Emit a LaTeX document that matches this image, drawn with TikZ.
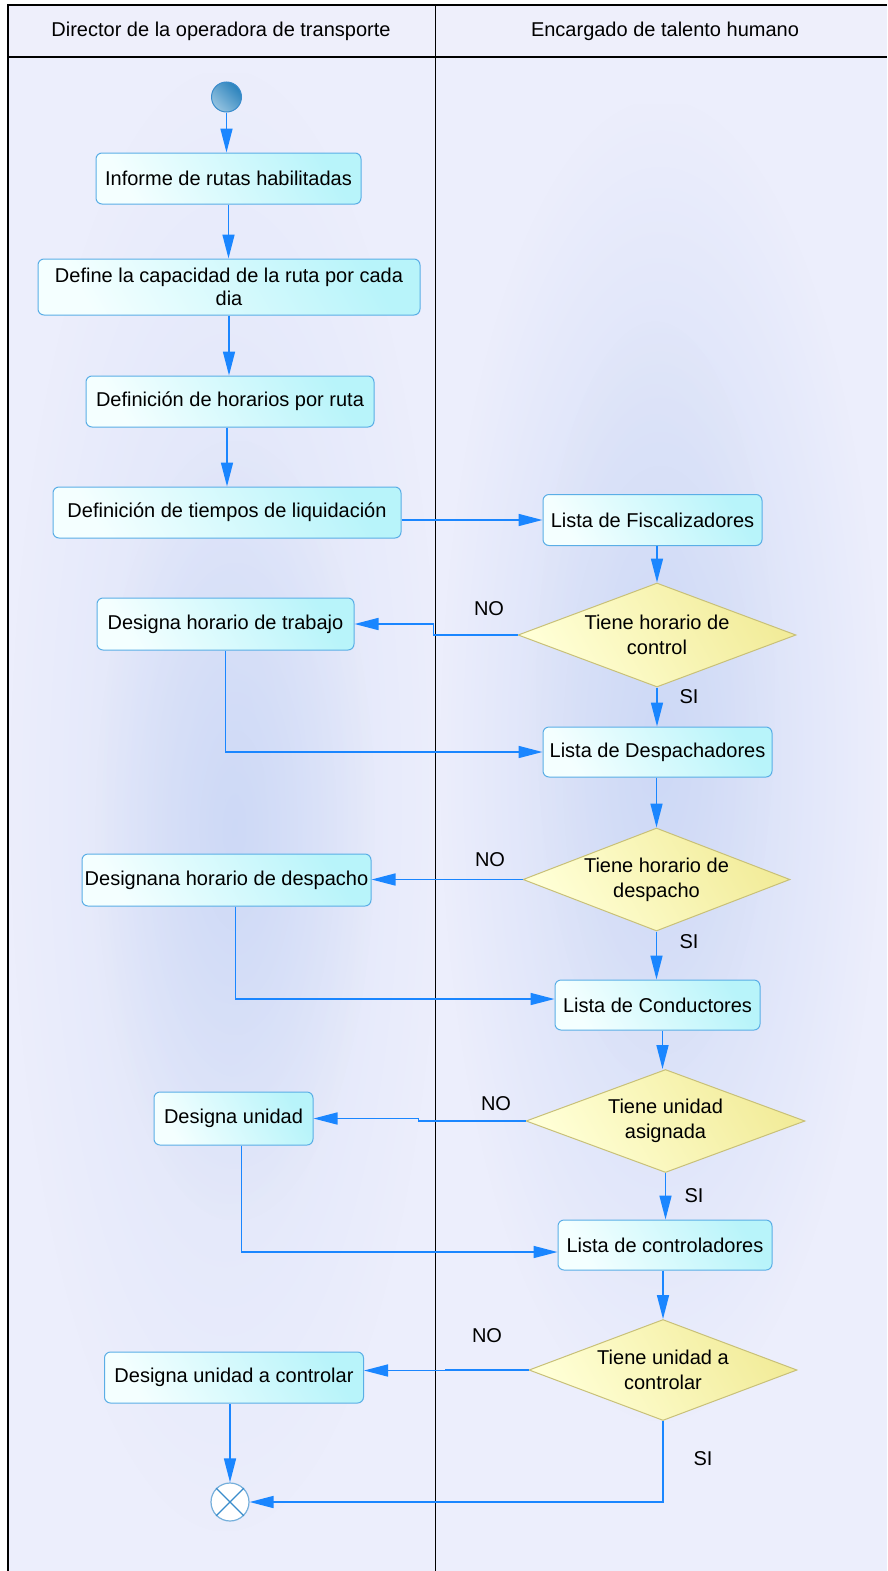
\documentclass[tikz,border=0pt]{standalone}
\usepackage{fontspec}
\setmainfont{Liberation Sans}
\usetikzlibrary{shapes.geometric,arrows.meta,fadings}

\definecolor{lanebg}{HTML}{ECEEFC}
\definecolor{lanehaze}{HTML}{CCD8F6}
\definecolor{headbg}{HTML}{EEEFFB}
\definecolor{boxline}{HTML}{5AAEE6}
\definecolor{boxlight}{HTML}{F4FFFF}
\definecolor{boxdark}{HTML}{B8F4FA}
\definecolor{decline}{HTML}{C8C078}
\definecolor{declight}{HTML}{FFFFD6}
\definecolor{decdark}{HTML}{F2EC9A}
\definecolor{flow}{HTML}{1A86FF}
\definecolor{startlight}{HTML}{95C3E0}
\definecolor{startdark}{HTML}{2A82BC}
\definecolor{endline}{HTML}{3A8CCC}

\tikzfading[name=softblob, inner color=transparent!0, outer color=transparent!100]

\tikzset{
  actbox/.style={draw=boxline, line width=1pt, rounded corners=6pt,
    left color=boxlight, right color=boxdark, shading angle=120,
    inner sep=0pt, align=center, text=black},
  decbox/.style={diamond, draw=decline, line width=1pt,
    left color=declight, right color=decdark, shading angle=120,
    inner sep=0pt},
  flowarrow/.style={draw=flow, line width=1.6pt,
    -{Triangle[length=24pt,width=12pt]}},
  guard/.style={text=black, inner sep=0pt},
  frame/.style={draw=black, line width=1.5pt},
}

% soft elliptical haze: centre x, centre y, half width, half height, opacity
\newcommand\hazeblob[5]{%
  \fill[lanehaze, fill opacity=#5, path fading=softblob]
    (#1-#3,#2-#4) rectangle (#1+#3,#2+#4);}

\begin{document}
\begin{tikzpicture}[x=1pt, y=-1pt, font=\fontsize{20}{24}\selectfont]
\useasboundingbox (0,0) rectangle (887,1571);

% lane backgrounds with soft haze
\fill[lanebg] (8,57) rectangle (887,1571);
\hazeblob{225}{800}{215}{730}{0.5}
\hazeblob{235}{830}{140}{390}{0.9}
\hazeblob{660}{760}{220}{660}{0.9}
\hazeblob{655}{700}{120}{380}{0.45}

% header band
\fill[headbg] (8,5) rectangle (887,57);
\draw[frame] (887,5) -- (8,5) -- (8,1571);
\draw[draw=black, line width=2pt] (8,57) -- (887,57);
\draw[frame] (435.5,5) -- (435.5,1571);
\node[text=black] (hdir) at (221,31) {Director de la operadora de transporte};
\node[text=black] (hrh) at (665,31) {Encargado de talento humano};

% initial and final states
\node[circle, draw=endline, line width=1pt, left color=startlight, right color=startdark,
  shading angle=135, minimum size=30pt, inner sep=0pt] (start) at (226.5,97) {};
\node[circle, draw=endline!70, line width=1.2pt, fill=white, minimum size=38pt, inner sep=0pt]
  (finish) at (230,1502) {};
\draw[endline, line width=1.2pt] (finish.north west) -- (finish.south east)
  (finish.north east) -- (finish.south west);

% activities of the director
\node[actbox, minimum width=265pt, minimum height=51pt] (n1) at (228.5,178.5) {Informe de rutas habilitadas};
\node[actbox, minimum width=382pt, minimum height=56pt, font=\fontsize{20}{23}\selectfont] (n2) at (229,287) {Define la capacidad de la ruta por cada\\dia};
\node[actbox, minimum width=288pt, minimum height=51pt] (n3) at (230,401.5) {Definición de horarios por ruta};
\node[actbox, minimum width=348pt, minimum height=51pt] (n4) at (227,512.5) {Definición de tiempos de liquidación};
\node[actbox, minimum width=257pt, minimum height=52pt] (n5) at (225.5,624) {Designa horario de trabajo};
\node[actbox, minimum width=289pt, minimum height=52pt] (n6) at (226.5,880) {Designana horario de despacho};
\node[actbox, minimum width=159pt, minimum height=53pt] (n7) at (233.5,1118.5) {Designa unidad};
\node[actbox, minimum width=259pt, minimum height=51pt] (n8) at (234,1377.5) {Designa unidad a controlar};

% activities of human resources
\node[actbox, minimum width=219pt, minimum height=51pt] (la) at (652.5,520) {Lista de Fiscalizadores};
\node[actbox, minimum width=229pt, minimum height=50pt] (lb) at (657.5,752) {Lista de Despachadores};
\node[actbox, minimum width=205pt, minimum height=50pt] (lc) at (657.5,1005) {Lista de Conductores};
\node[actbox, minimum width=214pt, minimum height=50pt] (le) at (665,1245) {Lista de controladores};

% decisions
\node[decbox, minimum width=278pt, minimum height=104pt] (d1) at (657,635) {};
\node[align=center, text=black, font=\fontsize{20}{25}\selectfont] (d1t) at (d1) {Tiene horario de\\control};
\node[decbox, minimum width=267pt, minimum height=103pt] (d2) at (656.5,879.5) {};
\node[align=center, text=black, font=\fontsize{20}{25}\selectfont] (d2t) at (d2) {Tiene horario de\\despacho};
\node[decbox, minimum width=279pt, minimum height=103pt] (d3) at (665.5,1121) {};
\node[align=center, text=black, font=\fontsize{20}{25}\selectfont] (d3t) at (d3) {Tiene unidad\\asignada};
\node[decbox, minimum width=268pt, minimum height=101pt] (d4) at (663,1370) {};
\node[align=center, text=black, font=\fontsize{20}{25}\selectfont] (d4t) at (d4) {Tiene unidad a\\controlar};

% control flow, director lane
\draw[flowarrow] (start.south) -- (start.south |- n1.north);
\draw[flowarrow] (n1.south) -- (n1.south |- n2.north);
\draw[flowarrow] (n2.south) -- (n2.south |- n3.north);
\draw[flowarrow] (n4.north |- n3.south) -- (n4.north);
\draw[flowarrow] (la.west -| n4.east) -- (la.west);

% fiscalizadores
\draw[flowarrow] (d1.north |- la.south) -- (d1.north);
\draw[flowarrow] (d1.west) -- ++(-84,0) |- (n5.east);
\draw[flowarrow] (d1.south) -- (d1.south |- lb.north);
\draw[flowarrow] (n5.south) |- (lb.west);

% despachadores
\draw[flowarrow] (d2.north |- lb.south) -- (d2.north);
\draw[flowarrow] (d2.west) -- (d2.west -| n6.east);
\draw[flowarrow] (d2.south) -- (d2.south |- lc.north);
\draw[flowarrow] ([xshift=9pt]n6.south) |- ([yshift=6pt]lc.west);

% conductores
\draw[flowarrow] ([xshift=5pt]lc.south) -- ([xshift=5pt]lc.south |- d3.north);
\draw[flowarrow] (d3.west) -- ++(-107,0) |- (n7.east);
\draw[flowarrow] (d3.south) -- (d3.south |- le.north);
\draw[flowarrow] ([xshift=8pt]n7.south) |- ([yshift=-7pt]le.west);

% controladores
\draw[flowarrow] (d4.north |- le.south) -- (d4.north);
\draw[flowarrow] (d4.west) -- ++(-83,0) |- ([yshift=7pt]n8.east);
\draw[flowarrow] (d4.south) |- (finish.east);
\draw[flowarrow] (finish.north |- n8.south) -- (finish.north);

% guard labels
\node[guard] (no1) at (489,609) {NO};
\node[guard] (si1) at (689,697) {SI};
\node[guard] (no2) at (490,860) {NO};
\node[guard] (si2) at (689,942) {SI};
\node[guard] (no3) at (496,1104) {NO};
\node[guard] (si3) at (694,1196) {SI};
\node[guard] (no4) at (487,1336) {NO};
\node[guard] (si4) at (703,1459) {SI};
\end{tikzpicture}
\end{document}
